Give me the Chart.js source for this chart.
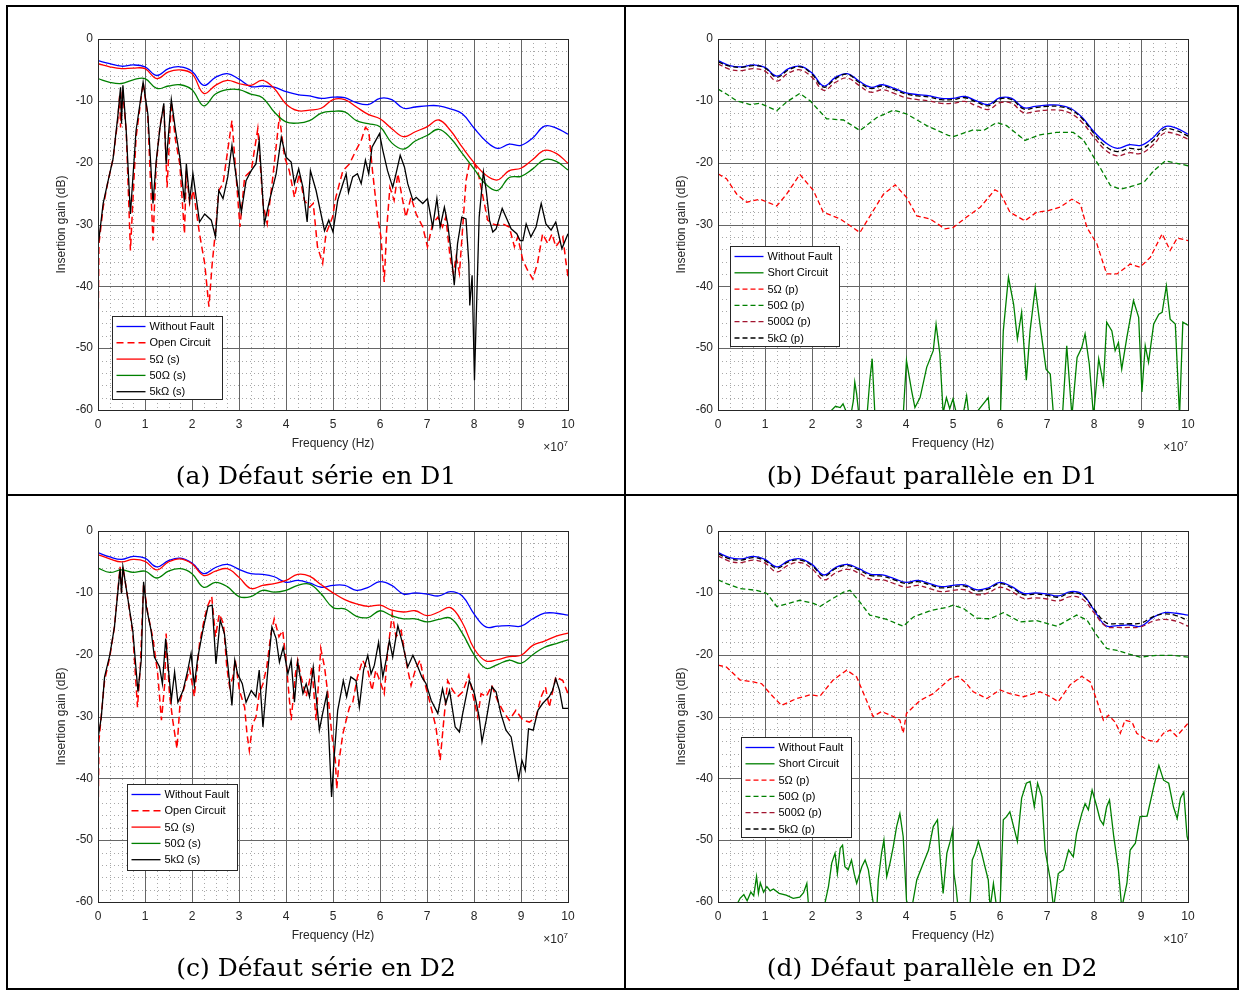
<!DOCTYPE html>
<html>
<head>
<meta charset="utf-8">
<script src="https://cdn.jsdelivr.net/npm/chart.js@4.4.1/dist/chart.umd.min.js"></script>
<style>
  body { margin: 0; background: #fff; width: 1242px; height: 990px; position: relative; overflow: hidden; }
  canvas { position: absolute; }
  .line { position: absolute; background: #000; z-index: 5; }
  .frameBox { position: absolute; border: 2px solid #000; box-sizing: border-box; z-index: 5; }
  .caption { position: absolute; text-align: center; font-family: "DejaVu Serif", "Liberation Serif", serif;
             font-size: 25px; line-height: 30px; color: #000; }
</style>
</head>
<body>
<div class="frameBox" style="left:6px;top:5px;width:1233px;height:985px;"></div>
<div class="line" style="left:624px;top:5px;width:2px;height:985px;"></div>
<div class="line" style="left:6px;top:494px;width:1233px;height:2px;"></div>

<canvas id="chartA" width="616" height="458" style="left:8px;top:7px;"></canvas>
<canvas id="chartB" width="616" height="458" style="left:628px;top:7px;"></canvas>
<canvas id="chartC" width="616" height="458" style="left:8px;top:499px;"></canvas>
<canvas id="chartD" width="616" height="458" style="left:628px;top:499px;"></canvas>

<div class="caption" style="left:8px;top:461px;width:616px;">(a) Défaut série en D1</div>
<div class="caption" style="left:626px;top:461px;width:612px;">(b) Défaut parallèle en D1</div>
<div class="caption" style="left:8px;top:953px;width:616px;">(c) Défaut série en D2</div>
<div class="caption" style="left:626px;top:953px;width:612px;">(d) Défaut parallèle en D2</div>

<script>
// grille de fréquence (x 1e7 Hz) pour les courbes lisses
const F25 = [0,0.25,0.5,0.75,1,1.25,1.5,1.75,2,2.25,2.5,2.75,3,3.25,3.5,3.75,4,4.25,4.5,4.75,5,
             5.25,5.5,5.75,6,6.25,6.5,6.75,7,7.25,7.5,7.75,8,8.25,8.5,8.75,9,9.25,9.5,9.75,10];
const xTickValues = [0,1,2,3,4,5,6,7,8,9,10];
const yTickValues = [0,-10,-20,-30,-40,-50,-60];

// ---- (a) défaut série en D1 ----
const blueA = [-3.5,-4.0,-4.4,-4.2,-4.5,-5.9,-4.8,-4.5,-5.2,-7.5,-6.2,-5.6,-6.5,-7.7,-7.6,-7.8,-8.5,-9.0,-9.2,-9.6,
  -9.4,-9.5,-10.3,-10.6,-9.6,-9.8,-11.2,-11.0,-10.8,-10.8,-11.3,-12.1,-14.4,-16.5,-17.7,-17.0,-17.2,-16.0,-14.1,-14.4,-15.4];
const s5A = [-4.0,-4.5,-4.8,-4.7,-4.8,-6.4,-5.3,-5.0,-5.6,-8.8,-7.5,-6.7,-7.2,-7.5,-6.7,-8.0,-10.5,-11.6,-11.5,-11.2,
  -9.8,-9.8,-11.0,-12.2,-12.9,-14.5,-15.8,-15.0,-14.2,-13.1,-14.8,-17.5,-20.0,-22.0,-22.8,-21.3,-20.9,-19.5,-18.0,-18.5,-20.1];
const s50A = [-6.4,-7.0,-7.2,-6.6,-6.4,-8.0,-7.6,-7.4,-8.2,-10.8,-8.9,-8.2,-8.2,-8.9,-9.5,-11.8,-13.4,-13.6,-13.2,-12.0,
  -11.7,-11.8,-13.2,-13.7,-14.2,-16.8,-17.8,-16.5,-15.6,-14.6,-16.0,-18.5,-21.0,-23.5,-24.5,-22.4,-22.2,-21.0,-19.5,-19.8,-21.2];
const openA = [[0,-49.0],[0.02,-33.1],[0.11,-27.2],[0.21,-23.1],[0.32,-19.4],[0.42,-13.2],[0.46,-9.2],[0.48,-14.3],[0.52,-8.1],
  [0.6,-14.8],[0.69,-34.2],[0.81,-15.9],[0.96,-7.0],[1.06,-12.6],[1.17,-32.6],[1.24,-20.2],[1.32,-14.0],[1.40,-10.8],[1.47,-24.0],
  [1.56,-10.2],[1.65,-16.4],[1.74,-20.2],[1.84,-31.5],[1.88,-21.3],[1.95,-26.6],[2.03,-24.5],[2.16,-31.5],[2.27,-36.3],[2.36,-43.3],
  [2.43,-36.3],[2.50,-31.0],[2.57,-24.5],[2.66,-23.4],[2.76,-18.0],[2.85,-13.2],[2.94,-22.3],[3.02,-30.4],[3.12,-22.3],[3.26,-21.3],
  [3.40,-14.5],[3.51,-26.6],[3.60,-29.9],[3.72,-22.3],[3.86,-12.5],[3.97,-19.1],[4.07,-21.3],[4.18,-25.6],[4.28,-21.8],[4.39,-26.1],
  [4.50,-27.2],[4.58,-26.6],[4.67,-33.6],[4.78,-36.3],[4.85,-31.5],[4.99,-28.8],[5.06,-25.6],[5.21,-21.3],[5.35,-20.2],[5.49,-18.0],
  [5.60,-16.4],[5.69,-14.3],[5.76,-14.8],[5.84,-21.3],[5.95,-28.8],[6.02,-32.0],[6.09,-39.3],[6.14,-31.0],[6.21,-24.0],[6.30,-26.1],
  [6.38,-21.8],[6.47,-25.6],[6.55,-28.8],[6.66,-25.6],[6.77,-28.3],[6.91,-30.4],[7.01,-33.6],[7.12,-29.9],[7.23,-28.8],[7.33,-30.4],
  [7.40,-28.8],[7.49,-35.2],[7.56,-37.9],[7.62,-35.2],[7.69,-37.9],[7.76,-30.4],[7.83,-22.9],[7.90,-20.2],[7.99,-19.9],[8.08,-21.3],
  [8.15,-24.0],[8.22,-26.6],[8.29,-29.3],[8.40,-29.9],[8.50,-30.1],[8.61,-29.9],[8.75,-30.4],[8.86,-33.6],[8.93,-32.0],[9.04,-35.8],
  [9.14,-37.4],[9.25,-38.8],[9.35,-36.3],[9.46,-31.5],[9.57,-33.1],[9.66,-31.5],[9.74,-33.6],[9.89,-32.0],[9.96,-36.3],[10,-38.4]];
const k5A = [[0,-33.6],[0.11,-26.6],[0.21,-23.1],[0.32,-19.4],[0.42,-12.6],[0.48,-7.8],[0.5,-13.7],[0.53,-7.5],[0.6,-14.8],
  [0.69,-28.3],[0.81,-14.8],[0.96,-7.0],[1.06,-12.1],[1.17,-26.6],[1.24,-19.6],[1.32,-14.3],[1.40,-10.4],[1.45,-20.2],[1.56,-9.8],
  [1.65,-14.8],[1.74,-19.1],[1.84,-26.4],[1.88,-20.2],[1.95,-26.1],[2.02,-21.8],[2.16,-29.6],[2.27,-28.3],[2.41,-29.3],[2.50,-32.0],
  [2.57,-24.5],[2.66,-25.8],[2.76,-22.3],[2.85,-17.2],[2.94,-22.3],[3.05,-28.0],[3.15,-22.9],[3.26,-21.3],[3.36,-20.2],[3.43,-16.4],
  [3.54,-29.9],[3.65,-26.1],[3.79,-21.8],[3.90,-15.9],[4.0,-19.1],[4.11,-19.9],[4.18,-23.4],[4.27,-21.0],[4.36,-24.0],[4.45,-29.6],
  [4.52,-21.3],[4.64,-24.5],[4.82,-31.0],[4.91,-29.3],[5.0,-31.2],[5.10,-26.1],[5.21,-23.4],[5.28,-21.8],[5.33,-24.8],[5.42,-22.3],
  [5.52,-21.8],[5.60,-23.4],[5.69,-19.6],[5.76,-21.8],[5.83,-17.5],[5.91,-16.4],[5.99,-15.3],[6.06,-18.0],[6.16,-21.3],[6.27,-24.0],
  [6.34,-21.8],[6.43,-18.8],[6.52,-20.7],[6.59,-23.4],[6.70,-26.1],[6.77,-25.6],[6.91,-26.6],[7.01,-25.8],[7.12,-30.4],[7.21,-25.8],
  [7.28,-30.4],[7.37,-27.2],[7.44,-29.9],[7.51,-34.2],[7.58,-39.8],[7.65,-33.1],[7.74,-28.8],[7.83,-29.1],[7.89,-36.3],[7.91,-43.1],
  [7.96,-38.2],[8.01,-55.2],[8.06,-41.7],[8.11,-28.8],[8.20,-21.5],[8.26,-24.5],[8.33,-29.3],[8.40,-31.2],[8.47,-30.7],[8.60,-27.4],
  [8.68,-28.8],[8.79,-30.7],[8.91,-31.5],[8.98,-32.6],[9.04,-32.6],[9.11,-29.9],[9.21,-32.0],[9.32,-30.4],[9.43,-26.6],[9.53,-29.9],
  [9.64,-30.9],[9.74,-29.6],[9.87,-33.9],[10,-31.5]];

// ---- (b) défaut parallèle en D1 ----
const blueB = [-3.5,-4.3,-4.5,-4.2,-4.6,-6.0,-4.8,-4.4,-5.5,-7.6,-6.2,-5.6,-6.8,-7.8,-7.4,-8.0,-8.7,-9.0,-9.2,-9.6,
  -9.6,-9.3,-10.0,-10.6,-9.5,-9.6,-11.1,-10.9,-10.7,-10.7,-11.2,-12.7,-15.0,-16.8,-17.7,-17.1,-17.2,-16.0,-14.2,-14.4,-15.4];
const k5B = [-3.7,-4.4,-4.6,-4.3,-4.7,-6.2,-5.0,-4.5,-5.7,-7.8,-6.4,-5.7,-7.0,-8.0,-7.6,-8.2,-8.9,-9.2,-9.4,-9.8,
  -9.8,-9.5,-10.2,-10.8,-9.7,-9.8,-11.3,-11.1,-10.9,-10.9,-11.4,-12.9,-15.3,-17.4,-18.2,-17.7,-17.8,-16.5,-14.6,-14.8,-15.7];
const r500B = [-4.0,-4.9,-5.1,-4.8,-5.2,-6.8,-5.5,-5.0,-6.2,-8.3,-7.0,-6.3,-7.5,-8.6,-8.2,-8.8,-9.5,-9.8,-10.0,-10.4,
  -10.4,-10.1,-10.8,-11.4,-10.3,-10.4,-11.9,-11.7,-11.5,-11.5,-12.0,-13.5,-15.9,-18.0,-18.9,-18.4,-18.5,-17.2,-15.2,-15.4,-16.2];
const p50B = [[0,-8.1],[0.18,-8.9],[0.40,-10.0],[0.68,-10.6],[0.89,-10.4],[1.25,-11.6],[1.46,-10.2],[1.74,-8.8],[1.96,-10.0],
  [2.31,-12.9],[2.67,-13.1],[3.02,-14.8],[3.38,-12.7],[3.73,-11.5],[4.01,-12.1],[4.44,-14.0],[4.9,-15.6],[5.0,-15.8],[5.43,-14.7],
  [5.65,-14.8],[5.93,-13.5],[6.14,-14.0],[6.53,-16.4],[6.85,-15.5],[7.2,-15.1],[7.56,-15.1],[7.78,-16.4],[8.13,-20.8],[8.35,-23.7],
  [8.56,-24.3],[8.85,-23.7],[9.06,-23.2],[9.27,-21.3],[9.52,-19.7],[10,-20.5]];
const p5B = [[0,-21.8],[0.18,-22.6],[0.40,-25.1],[0.61,-26.4],[0.89,-25.9],[1.25,-27.0],[1.46,-25.1],[1.74,-21.9],[2.03,-24.5],
  [2.24,-28.0],[2.6,-29.1],[3.02,-31.3],[3.3,-27.8],[3.52,-25.1],[3.77,-23.6],[4.01,-25.6],[4.23,-28.6],[4.51,-29.1],[4.83,-30.7],
  [5.0,-30.5],[5.29,-28.8],[5.58,-27.2],[5.89,-24.4],[6.0,-24.8],[6.21,-28.0],[6.53,-29.4],[6.78,-28.0],[7.0,-27.8],[7.28,-27.2],
  [7.53,-25.9],[7.71,-26.7],[7.85,-30.5],[8.06,-33.1],[8.27,-38.0],[8.49,-38.0],[8.77,-36.4],[8.98,-36.9],[9.2,-35.3],[9.45,-31.5],
  [9.62,-34.2],[9.77,-32.2],[10,-32.6]];
const shortB = [[2.3,-65],[2.42,-60],[2.5,-59.4],[2.6,-59.6],[2.66,-59.0],[2.74,-60.5],[2.8,-62],[2.88,-58.5],[2.91,-55.5],
  [2.95,-57.4],[3.0,-61],[3.1,-64],[3.18,-60],[3.23,-55.2],[3.28,-51.7],[3.34,-61],[3.45,-66],[3.9,-66],[4.01,-52.0],[4.12,-56.9],
  [4.19,-59.6],[4.3,-58.0],[4.44,-53.1],[4.58,-50.4],[4.64,-46.1],[4.72,-50.9],[4.79,-60.5],[4.86,-58.0],[4.93,-59.8],[5.0,-58.2],
  [5.07,-60.5],[5.15,-64],[5.22,-60.5],[5.29,-57.7],[5.34,-61],[5.45,-65],[5.52,-60.2],[5.75,-58.0],[5.8,-62],[6.0,-63],[6.07,-47.2],
  [6.18,-38.5],[6.29,-42.9],[6.37,-48.5],[6.46,-44.2],[6.56,-55.2],[6.64,-47.2],[6.75,-40.2],[6.85,-46.1],[6.98,-53.4],[7.07,-54.2],
  [7.15,-62],[7.32,-62],[7.42,-49.6],[7.53,-61],[7.64,-51.5],[7.74,-49.9],[7.81,-47.7],[7.9,-52.6],[7.99,-61],[8.1,-51.7],[8.2,-55.8],
  [8.27,-45.8],[8.38,-47.2],[8.45,-50.4],[8.52,-49.1],[8.59,-53.4],[8.7,-48.2],[8.84,-42.3],[8.95,-45.0],[9.02,-57.1],[9.09,-49.6],
  [9.16,-52.3],[9.27,-46.1],[9.38,-44.5],[9.45,-44.2],[9.54,-39.9],[9.62,-45.3],[9.73,-46.1],[9.82,-61],[9.89,-45.8],[10,-46.3]];

// ---- (c) défaut série en D2 ----
const blueC = [-3.5,-4.2,-4.6,-4.1,-4.4,-5.8,-4.8,-4.4,-5.2,-6.9,-5.9,-5.4,-6.2,-6.9,-7.0,-7.4,-8.3,-8.0,-8.4,-9.1,
  -8.8,-8.8,-9.6,-9.1,-8.2,-8.8,-10.2,-10.0,-10.2,-10.5,-9.8,-10.5,-13.4,-15.5,-15.4,-15.3,-15.4,-14.2,-13.3,-13.3,-13.6];
const s5C = [-3.8,-4.5,-5.0,-4.6,-4.9,-6.3,-5.0,-4.5,-5.3,-7.2,-6.5,-6.1,-7.5,-9.3,-8.8,-8.5,-8.0,-7.0,-7.3,-8.7,
  -10.0,-11.1,-11.8,-12.2,-12.0,-12.8,-13.1,-12.9,-13.7,-13.1,-12.4,-14.8,-19.0,-21.0,-20.8,-20.3,-20.1,-18.5,-17.8,-17.0,-16.5];
const s50C = [-6.0,-6.7,-6.3,-6.7,-6.5,-7.6,-6.5,-6.1,-6.9,-9.1,-8.3,-9.0,-10.6,-10.6,-9.6,-9.9,-9.6,-8.8,-8.6,-10.2,
  -12.4,-12.6,-13.8,-14.0,-12.9,-13.7,-14.2,-14.2,-14.7,-14.3,-14.1,-16.5,-20.0,-22.2,-21.6,-20.9,-21.4,-20.0,-18.8,-18.2,-17.6];
const openC = [[0,-48.4],[0.02,-33.9],[0.14,-24.2],[0.25,-20.4],[0.35,-15.5],[0.45,-7.4],[0.47,-5.8],[0.50,-9.9],[0.53,-5.8],
  [0.64,-11.2],[0.74,-16.6],[0.84,-28.5],[0.90,-22.0],[0.97,-8.5],[1.06,-13.4],[1.17,-17.4],[1.27,-23.1],[1.35,-30.6],[1.42,-24.7],
  [1.45,-16.6],[1.52,-26.3],[1.59,-30.6],[1.68,-35.2],[1.75,-27.4],[1.84,-25.2],[1.95,-22.3],[2.05,-26.8],[2.16,-18.2],[2.27,-13.9],
  [2.34,-12.0],[2.42,-10.6],[2.50,-17.1],[2.58,-13.4],[2.67,-15.0],[2.74,-22.0],[2.80,-25.2],[2.87,-23.6],[2.92,-20.9],[3.01,-25.8],
  [3.12,-28.5],[3.17,-32.8],[3.22,-35.5],[3.29,-31.2],[3.36,-30.1],[3.43,-26.3],[3.51,-24.7],[3.59,-22.0],[3.68,-16.6],[3.75,-14.2],
  [3.85,-17.1],[3.93,-16.1],[4.00,-20.9],[4.11,-30.6],[4.20,-23.1],[4.25,-20.9],[4.32,-23.6],[4.43,-26.8],[4.50,-24.2],[4.55,-22.0],
  [4.64,-30.6],[4.74,-19.0],[4.82,-22.0],[4.89,-26.3],[4.98,-33.3],[5.05,-37.1],[5.08,-41.7],[5.13,-37.1],[5.21,-32.8],[5.28,-30.6],
  [5.35,-28.5],[5.42,-27.7],[5.52,-23.6],[5.63,-20.9],[5.74,-22.5],[5.83,-25.8],[5.91,-22.5],[6.02,-24.7],[6.09,-26.3],[6.16,-19.8],
  [6.26,-13.4],[6.34,-17.1],[6.45,-16.1],[6.55,-20.9],[6.66,-25.0],[6.75,-22.5],[6.85,-20.9],[6.94,-24.2],[7.05,-27.4],[7.19,-31.7],
  [7.28,-37.1],[7.35,-31.2],[7.44,-24.2],[7.55,-25.8],[7.65,-26.8],[7.76,-26.0],[7.89,-23.3],[7.97,-26.3],[8.08,-30.1],[8.15,-26.3],
  [8.26,-26.8],[8.38,-25.0],[8.50,-27.4],[8.61,-29.0],[8.75,-30.6],[8.89,-29.0],[9.04,-30.6],[9.18,-30.9],[9.32,-30.1],[9.43,-26.8],
  [9.52,-25.2],[9.60,-28.5],[9.74,-23.6],[9.89,-24.2],[10,-26.3]];
const k5C = [[0,-33.6],[0.07,-30.1],[0.14,-23.6],[0.25,-20.1],[0.35,-15.5],[0.45,-7.7],[0.47,-6.1],[0.50,-10.1],[0.53,-5.8],
  [0.64,-11.2],[0.74,-16.1],[0.85,-26.0],[0.92,-20.9],[0.97,-8.2],[1.03,-12.3],[1.13,-16.1],[1.20,-20.4],[1.31,-22.0],[1.37,-24.7],
  [1.44,-17.4],[1.49,-21.7],[1.56,-27.4],[1.63,-22.8],[1.70,-27.7],[1.81,-25.8],[1.91,-22.5],[1.98,-19.8],[2.05,-25.0],[2.12,-20.6],
  [2.23,-16.1],[2.34,-12.2],[2.43,-12.0],[2.51,-21.5],[2.60,-14.4],[2.69,-16.6],[2.76,-21.5],[2.85,-28.2],[2.91,-20.9],[2.97,-23.1],
  [3.07,-24.7],[3.15,-27.7],[3.26,-25.8],[3.36,-26.8],[3.43,-22.5],[3.51,-31.7],[3.61,-22.8],[3.70,-15.5],[3.79,-17.4],[3.86,-21.2],
  [3.94,-18.8],[4.04,-23.1],[4.11,-20.9],[4.18,-27.7],[4.25,-21.2],[4.36,-26.3],[4.43,-24.7],[4.50,-26.8],[4.58,-22.0],[4.71,-32.2],
  [4.78,-29.5],[4.87,-26.3],[4.97,-43.0],[5.03,-36.0],[5.10,-29.0],[5.22,-24.2],[5.29,-26.8],[5.38,-23.6],[5.49,-24.2],[5.56,-28.5],
  [5.65,-22.5],[5.74,-20.1],[5.81,-23.1],[5.88,-21.7],[5.97,-18.0],[6.06,-23.6],[6.13,-20.9],[6.20,-17.7],[6.27,-20.4],[6.38,-15.3],
  [6.48,-18.2],[6.59,-22.0],[6.70,-20.1],[6.78,-21.5],[6.89,-23.6],[6.98,-24.7],[7.09,-27.4],[7.23,-29.5],[7.33,-25.5],[7.40,-27.9],
  [7.48,-25.8],[7.60,-31.7],[7.69,-32.5],[7.76,-29.5],[7.90,-24.2],[8.01,-26.3],[8.11,-30.1],[8.17,-34.1],[8.26,-30.6],[8.38,-25.2],
  [8.47,-26.0],[8.57,-29.5],[8.68,-32.2],[8.79,-33.3],[8.88,-37.1],[8.95,-40.1],[9.02,-37.1],[9.09,-38.7],[9.16,-32.0],[9.26,-32.2],
  [9.36,-29.0],[9.46,-27.9],[9.60,-26.8],[9.67,-25.8],[9.74,-23.9],[9.82,-25.8],[9.89,-28.7],[10,-28.7]];

// ---- (d) défaut parallèle en D2 ----
const blueD = [-3.5,-4.3,-4.5,-4.1,-4.6,-5.8,-4.8,-4.5,-5.4,-7.1,-5.9,-5.4,-6.1,-7.0,-7.1,-7.7,-8.3,-8.0,-8.5,-9.0,
  -8.8,-8.7,-9.5,-9.2,-8.3,-9.0,-10.1,-10.0,-10.2,-10.5,-9.8,-10.2,-12.8,-15.3,-15.3,-15.2,-15.4,-14.0,-13.2,-13.3,-13.6];
const k5D = [-3.7,-4.5,-4.7,-4.3,-4.8,-6.0,-5.0,-4.7,-5.6,-7.3,-6.1,-5.6,-6.3,-7.2,-7.3,-7.9,-8.5,-8.2,-8.7,-9.2,
  -9.0,-8.9,-9.7,-9.4,-8.5,-9.2,-10.3,-10.2,-10.4,-10.7,-10.0,-10.4,-12.6,-14.8,-15.0,-15.0,-14.9,-13.9,-13.4,-13.7,-14.5];
const r500D = [-4.0,-4.9,-5.1,-4.7,-5.2,-6.6,-5.5,-5.1,-6.1,-7.9,-6.8,-6.2,-6.8,-7.8,-7.9,-8.5,-9.1,-8.8,-9.3,-9.8,
  -9.6,-9.5,-10.3,-10.0,-9.1,-9.8,-10.9,-10.8,-11.0,-11.3,-10.6,-11.0,-13.2,-15.4,-15.6,-15.6,-15.5,-14.6,-14.3,-14.6,-15.4];
const p50D = [[0,-7.9],[0.18,-8.5],[0.47,-9.3],[0.82,-9.6],[1.04,-10.1],[1.25,-12.2],[1.46,-11.8],[1.74,-11.2],[2.03,-11.7],
  [2.17,-12.2],[2.38,-11.2],[2.67,-9.9],[2.81,-9.6],[3.02,-11.5],[3.23,-13.6],[3.59,-14.3],[3.94,-15.4],[4.16,-13.9],[4.51,-12.9],
  [4.9,-12.3],[5.0,-12.0],[5.22,-12.5],[5.5,-14.1],[5.79,-14.2],[6.07,-13.2],[6.43,-14.7],[6.78,-14.5],[7.21,-15.4],[7.63,-13.6],
  [7.85,-14.4],[8.06,-16.9],[8.27,-19.0],[8.49,-19.3],[8.7,-19.8],[8.98,-20.4],[9.34,-20.1],[9.69,-20.1],[10,-20.4]];
const p5D = [[0,-21.7],[0.18,-22.0],[0.47,-24.1],[0.75,-24.4],[0.93,-24.7],[1.11,-26.3],[1.35,-28.2],[1.67,-27.1],[1.96,-26.5],
  [2.17,-26.7],[2.45,-24.1],[2.74,-22.5],[2.95,-23.6],[3.16,-27.4],[3.3,-30.0],[3.48,-29.2],[3.73,-30.0],[3.87,-30.6],[3.94,-32.7],
  [4.01,-29.5],[4.3,-27.4],[4.58,-26.3],[4.94,-23.9],[5.11,-23.5],[5.29,-24.7],[5.43,-26.0],[5.72,-27.1],[6.0,-25.7],[6.21,-26.3],
  [6.5,-26.8],[6.85,-26.0],[7.07,-26.8],[7.24,-27.6],[7.49,-24.9],[7.74,-23.5],[7.92,-24.4],[8.06,-27.4],[8.2,-30.6],[8.31,-29.8],
  [8.45,-30.9],[8.56,-32.7],[8.66,-30.6],[8.81,-30.9],[8.91,-32.7],[9.13,-33.8],[9.34,-34.1],[9.48,-32.7],[9.62,-32.2],[9.76,-33.2],
  [10,-31.1]];
const shortD = [[0.38,-63],[0.43,-60],[0.47,-59.4],[0.55,-58.8],[0.62,-59.8],[0.7,-58.4],[0.76,-59.0],[0.82,-55.9],[0.86,-58.6],
  [0.9,-56.9],[0.97,-58.4],[1.04,-57.5],[1.11,-58.2],[1.18,-57.9],[1.3,-58.6],[1.45,-58.9],[1.6,-59.4],[1.74,-59.2],[1.82,-58.5],
  [1.89,-57.0],[1.93,-61],[2.2,-64],[2.28,-60],[2.35,-57.5],[2.42,-53.7],[2.49,-52.1],[2.54,-55.4],[2.6,-51.3],[2.65,-50.8],
  [2.7,-54.3],[2.77,-54.8],[2.84,-53.2],[2.9,-55.5],[2.95,-57.0],[3.06,-54.3],[3.13,-53.2],[3.2,-54.8],[3.27,-58.6],[3.32,-61],
  [3.38,-61],[3.41,-56.4],[3.48,-52.1],[3.53,-50.0],[3.59,-55.9],[3.66,-53.7],[3.73,-51.0],[3.8,-47.8],[3.87,-45.7],[3.94,-49.4],
  [4.01,-59.7],[4.1,-62],[4.23,-56.4],[4.37,-53.7],[4.48,-51.6],[4.58,-47.8],[4.67,-46.7],[4.74,-54.3],[4.79,-58.6],[4.87,-52.1],
  [4.94,-50.2],[4.99,-48.4],[5.02,-55.4],[5.06,-57.5],[5.11,-61],[5.36,-61],[5.41,-53.2],[5.47,-52.1],[5.54,-50.2],[5.61,-52.1],
  [5.68,-54.3],[5.75,-56.4],[5.79,-61],[5.86,-57.0],[5.93,-61],[6.0,-61],[6.07,-46.7],[6.14,-46.2],[6.21,-45.4],[6.29,-47.8],
  [6.37,-50.2],[6.46,-43.2],[6.56,-40.8],[6.64,-40.5],[6.73,-44.6],[6.8,-40.8],[6.89,-43.0],[6.96,-51.6],[7.07,-56.4],[7.14,-61],
  [7.24,-55.4],[7.35,-54.8],[7.46,-51.6],[7.56,-52.7],[7.63,-48.9],[7.74,-45.7],[7.81,-44.1],[7.88,-45.1],[7.96,-41.9],[8.06,-44.6],
  [8.13,-46.7],[8.2,-47.5],[8.27,-44.6],[8.33,-43.5],[8.42,-49.4],[8.52,-54.8],[8.59,-61],[8.7,-57.0],[8.77,-51.6],[8.88,-50.5],
  [8.98,-46.2],[9.13,-46.1],[9.27,-41.4],[9.38,-37.9],[9.48,-40.3],[9.59,-40.8],[9.69,-44.6],[9.77,-46.5],[9.84,-43.2],[9.91,-42.2],
  [9.98,-49.4],[10,-50]];

const BLUE = '#0000ff', RED = '#ff0000', GREEN = '#008000', BLACK = '#000000', MAROON = '#a2142f';
const AXIS_FONT = '"Liberation Sans", Arial, sans-serif';

function onGrid(vals) { return vals.map((v, i) => ({ x: F25[i], y: v })); }
function fromPairs(p) { return p.map(([x, y]) => ({ x: x, y: y })); }

// grille majeure/mineure, cadre, titres d'axes et légende façon MATLAB
function framePlugin(legend) {
  return {
    id: 'frame',
    beforeDatasetsDraw(chart) {
      const { ctx, chartArea: a, scales: { x, y } } = chart;
      ctx.save();
      ctx.lineWidth = 1;
      ctx.strokeStyle = '#a8a8a8';
      ctx.setLineDash([1, 3]);
      for (let v = 0.25; v < 10; v += 0.25) {
        if (Math.abs(v - Math.round(v)) < 1e-6) continue;
        const px = Math.round(x.getPixelForValue(v)) + 0.5;
        ctx.beginPath(); ctx.moveTo(px, a.top); ctx.lineTo(px, a.bottom); ctx.stroke();
      }
      for (let v = -58; v < 0; v += 2) {
        if (v % 10 === 0) continue;
        const py = Math.round(y.getPixelForValue(v)) + 0.5;
        ctx.beginPath(); ctx.moveTo(a.left, py); ctx.lineTo(a.right, py); ctx.stroke();
      }
      ctx.setLineDash([]);
      ctx.strokeStyle = '#666666';
      xTickValues.forEach(v => {
        const px = Math.round(x.getPixelForValue(v)) + 0.5;
        ctx.beginPath(); ctx.moveTo(px, a.top); ctx.lineTo(px, a.bottom); ctx.stroke();
      });
      yTickValues.forEach(v => {
        const py = Math.round(y.getPixelForValue(v)) + 0.5;
        ctx.beginPath(); ctx.moveTo(a.left, py); ctx.lineTo(a.right, py); ctx.stroke();
      });
      ctx.restore();
    },
    afterDatasetsDraw(chart) {
      const { ctx, chartArea: a } = chart;
      ctx.save();
      ctx.strokeStyle = '#262626';
      ctx.lineWidth = 1;
      ctx.strokeRect(Math.round(a.left) + 0.5, Math.round(a.top) + 0.5,
                     Math.round(a.right - a.left), Math.round(a.bottom - a.top));

      // titres d'axes
      ctx.fillStyle = '#262626';
      ctx.font = '12px ' + AXIS_FONT;
      ctx.textAlign = 'center';
      ctx.textBaseline = 'middle';
      ctx.fillText('Frequency (Hz)', (a.left + a.right) / 2, a.bottom + 34);
      ctx.save();
      ctx.translate(a.left - 36, (a.top + a.bottom) / 2);
      ctx.rotate(-Math.PI / 2);
      ctx.fillText('Insertion gain (dB)', 0, 0);
      ctx.restore();

      // exposant ×10^7
      ctx.textBaseline = 'alphabetic';
      ctx.textAlign = 'right';
      ctx.font = '8px ' + AXIS_FONT;
      const w7 = ctx.measureText('7').width;
      ctx.fillText('7', a.right, a.bottom + 36);
      ctx.font = '12px ' + AXIS_FONT;
      ctx.fillText('\u00d710', a.right - w7, a.bottom + 41);

      // légende
      const bx = Math.round(a.left + legend.x) + 0.5, by = Math.round(a.top + legend.y) + 0.5;
      ctx.fillStyle = '#ffffff';
      ctx.fillRect(bx, by, legend.w, legend.h);
      ctx.strokeStyle = '#262626';
      ctx.strokeRect(bx, by, legend.w, legend.h);
      ctx.font = '11px ' + AXIS_FONT;
      ctx.textAlign = 'left';
      ctx.textBaseline = 'middle';
      chart.data.datasets.forEach((d, i) => {
        const ry = by + 10 + i * 16.3;
        ctx.strokeStyle = d.borderColor;
        ctx.lineWidth = d.borderWidth;
        ctx.setLineDash(d.borderDash || []);
        ctx.beginPath(); ctx.moveTo(bx + 4, ry); ctx.lineTo(bx + 33, ry); ctx.stroke();
        ctx.setLineDash([]);
        ctx.fillStyle = '#000';
        ctx.fillText(d.label, bx + 37, ry + 0.5);
      });
      ctx.restore();
    }
  };
}

function makePanel(id, series, legend) {
  const datasets = series.map((s, i) => ({
    label: s.label,
    data: s.data,
    borderColor: s.color,
    borderWidth: s.width || 1.3,
    borderDash: s.dash || [],
    tension: s.smooth ? 0.4 : 0,
    pointRadius: 0,
    fill: false,
    clip: 0,
    order: series.length - i
  }));
  new Chart(document.getElementById(id), {
    type: 'line',
    data: { datasets },
    options: {
      responsive: false,
      animation: false,
      events: [],
      layout: { padding: { left: 0, top: 32, right: 56, bottom: 0 } },
      plugins: { legend: { display: false }, tooltip: { enabled: false } },
      scales: {
        x: {
          type: 'linear', min: 0, max: 10,
          afterFit: s => { s.height = 55; },
          afterBuildTicks: s => { s.ticks = xTickValues.map(v => ({ value: v })); },
          grid: { display: false, drawTicks: false },
          border: { display: false },
          ticks: { padding: 7, maxRotation: 0, color: '#262626', font: { size: 12, family: AXIS_FONT },
                   callback: v => String(v) }
        },
        y: {
          type: 'linear', min: -60, max: 0,
          afterFit: s => { s.width = 90; },
          afterBuildTicks: s => { s.ticks = yTickValues.map(v => ({ value: v })); },
          grid: { display: false, drawTicks: false },
          border: { display: false },
          ticks: { padding: 5, color: '#262626', font: { size: 12, family: AXIS_FONT },
                   callback: v => String(v) }
        }
      }
    },
    plugins: [framePlugin(legend)]
  });
}

const OC_DASH = [7, 4], P_DASH = [5, 3];

makePanel('chartA', [
  { label: 'Without Fault', data: onGrid(blueA), color: BLUE, smooth: true },
  { label: 'Open Circuit', data: fromPairs(openA), color: RED, dash: OC_DASH, width: 1.5 },
  { label: '5\u03a9 (s)', data: onGrid(s5A), color: RED, smooth: true },
  { label: '50\u03a9 (s)', data: onGrid(s50A), color: GREEN, smooth: true },
  { label: '5k\u03a9 (s)', data: fromPairs(k5A), color: BLACK }
], { x: 14, y: 277, w: 110, h: 83 });

makePanel('chartB', [
  { label: 'Without Fault', data: onGrid(blueB), color: BLUE, smooth: true },
  { label: 'Short Circuit', data: fromPairs(shortB), color: GREEN },
  { label: '5\u03a9 (p)', data: fromPairs(p5B), color: RED, dash: P_DASH },
  { label: '50\u03a9 (p)', data: fromPairs(p50B), color: GREEN, dash: P_DASH },
  { label: '500\u03a9 (p)', data: onGrid(r500B), color: MAROON, dash: P_DASH, smooth: true },
  { label: '5k\u03a9 (p)', data: onGrid(k5B), color: BLACK, dash: P_DASH, smooth: true }
], { x: 12, y: 207, w: 109, h: 100 });

makePanel('chartC', [
  { label: 'Without Fault', data: onGrid(blueC), color: BLUE, smooth: true },
  { label: 'Open Circuit', data: fromPairs(openC), color: RED, dash: OC_DASH, width: 1.5 },
  { label: '5\u03a9 (s)', data: onGrid(s5C), color: RED, smooth: true },
  { label: '50\u03a9 (s)', data: onGrid(s50C), color: GREEN, smooth: true },
  { label: '5k\u03a9 (s)', data: fromPairs(k5C), color: BLACK }
], { x: 29, y: 253, w: 110, h: 86 });

makePanel('chartD', [
  { label: 'Without Fault', data: onGrid(blueD), color: BLUE, smooth: true },
  { label: 'Short Circuit', data: fromPairs(shortD), color: GREEN },
  { label: '5\u03a9 (p)', data: fromPairs(p5D), color: RED, dash: P_DASH },
  { label: '50\u03a9 (p)', data: fromPairs(p50D), color: GREEN, dash: P_DASH },
  { label: '500\u03a9 (p)', data: onGrid(r500D), color: MAROON, dash: P_DASH, smooth: true },
  { label: '5k\u03a9 (p)', data: onGrid(k5D), color: BLACK, dash: P_DASH, smooth: true }
], { x: 23, y: 206, w: 110, h: 100 });
</script>
</body>
</html>
